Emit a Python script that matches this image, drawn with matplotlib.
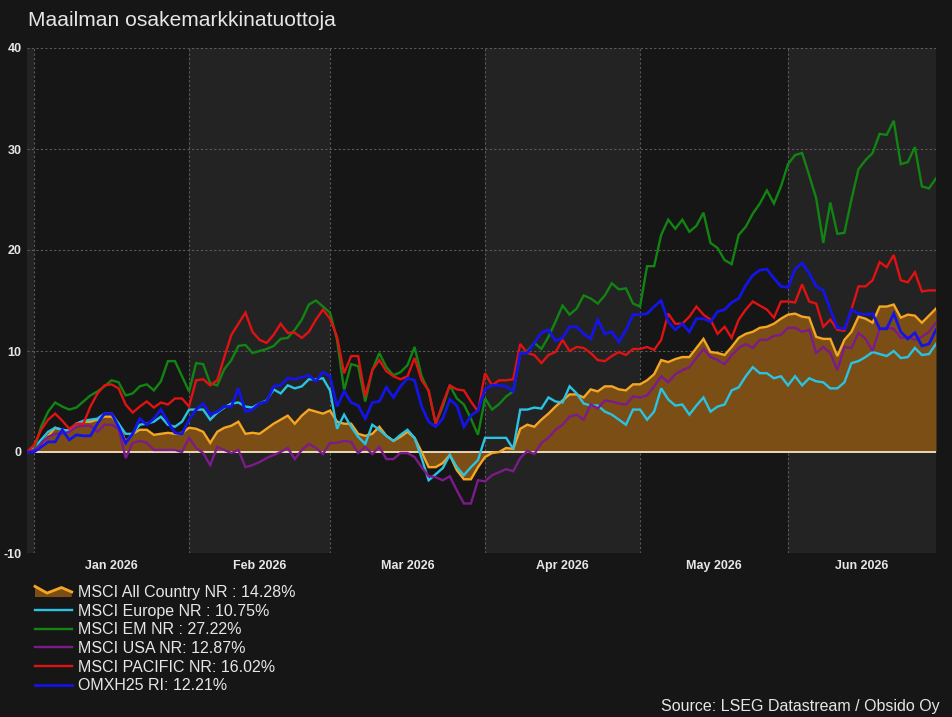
import numpy as np
import pandas as pd
import matplotlib
matplotlib.use("Agg")
import matplotlib.pyplot as plt
from matplotlib.legend_handler import HandlerBase
from matplotlib.patches import Polygon
from matplotlib.lines import Line2D

plt.rcParams['font.family'] = ['Liberation Sans', 'DejaVu Sans']

# ---------------- data ----------------
dates = pd.bdate_range("2025-12-31", "2026-06-30")

acwi = [0, 0.2, 0.7, 1.6, 2.4, 2.2, 2.1, 2.8, 3.0, 3.0, 3.2, 3.5, 3.5, 2.8, 1.0, 1.8, 2.2, 2.2, 1.7, 1.8,
        1.9, 1.8, 1.9, 2.4, 2.3, 2.0, 0.9, 2.0, 2.4, 2.6, 3.0, 1.8, 1.9, 1.8,
        2.3, 2.8, 3.2, 3.6, 2.8, 3.6, 4.2, 4.0, 3.8, 4.1, 3.0, 2.8, 2.8, 1.8, 1.6, 1.8, 2.5, 1.6, 1.1, 1.5,
        2.0, 1.4, 0.0, -1.5, -1.5, -1.1, -0.3, -1.8, -2.7, -2.7, -1.5, -0.5, -0.1,
        0.0, 0.4, 0.3, 2.3, 2.7, 2.5, 3.2, 3.8, 4.5, 5.1, 5.7, 5.7, 5.4, 6.2, 6.0, 6.5, 6.5, 6.2, 6.1, 6.7,
        6.7, 7.1, 7.7, 9.1, 8.9, 9.2, 9.4, 9.4, 10.3, 11.2, 9.9, 9.8, 9.6,
        10.4, 11.3, 11.7, 11.9, 12.3, 12.4, 12.7, 13.2, 13.6, 13.7, 13.4, 13.3, 11.4, 11.2, 11.2, 9.5, 11.1,
        11.9, 13.4, 13.2, 12.8, 14.4, 14.4, 14.6, 13.3, 13.6, 13.5, 12.8, 13.5, 14.2]

europe = [0, 0.4, 1.2, 2.0, 2.4, 2.2, 2.1, 2.8, 3.1, 3.2, 3.3, 3.8, 3.8, 2.8, 1.8, 1.8, 2.7, 2.8, 3.0, 3.5,
          2.7, 2.5, 3.0, 4.2, 4.2, 4.2, 3.2, 3.9, 4.4, 4.8, 4.9, 4.5, 4.4, 4.8,
          5.1, 6.2, 5.8, 6.6, 6.3, 6.5, 7.2, 7.2, 7.3, 6.1, 2.3, 3.7, 2.5, 1.5, 0.8, 2.7, 2.2, 1.6, 1.1, 1.7,
          2.2, 1.4, -0.6, -2.8, -2.2, -1.6, -0.3, -1.5, -2.3, -1.5, -0.8, 1.4, 1.4,
          1.4, 1.4, 0.3, 4.2, 4.2, 4.4, 4.3, 5.4, 5.0, 4.9, 6.5, 5.8, 4.8, 4.6, 4.6, 4.0, 3.7, 3.2, 2.7, 4.2,
          4.2, 3.2, 4.0, 6.3, 5.2, 4.6, 4.7, 3.7, 4.6, 5.4, 4.0, 4.5, 4.7,
          6.1, 6.4, 7.5, 8.4, 7.8, 7.8, 7.3, 7.5, 6.6, 7.5, 6.6, 7.3, 7.0, 6.9, 6.3, 6.3, 6.9, 8.8, 9.0, 9.4,
          9.9, 9.7, 9.5, 10.0, 9.3, 9.4, 10.3, 9.6, 9.7, 10.7]

em = [0, 0.2, 2.5, 4.0, 4.9, 4.5, 4.2, 4.4, 5.0, 5.6, 6.0, 6.5, 7.1, 6.9, 5.6, 5.8, 6.5, 6.7, 6.1, 7.0,
      9.0, 9.0, 7.5, 6.0, 8.8, 8.7, 6.8, 6.6, 8.2, 9.1, 10.5, 10.6, 9.8, 10.0,
      10.2, 10.5, 11.2, 11.3, 12.1, 13.1, 14.6, 15.0, 14.4, 13.8, 11.1, 6.1, 8.7, 8.5, 5.0, 8.1, 9.8, 8.4,
      7.6, 7.9, 8.6, 10.4, 7.5, 6.0, 2.8, 4.5, 6.6, 5.3, 4.7, 3.3, 1.7, 5.3, 4.2,
      4.75, 5.5, 6.0, 9.8, 10.0, 10.8, 10.2, 11.4, 12.9, 14.5, 13.6, 14.2, 15.5, 15.2, 14.7, 15.5, 16.7,
      16.1, 16.2, 14.7, 14.4, 18.4, 18.4, 21.5, 23.0, 22.1, 23.0, 21.8, 22.4, 23.7, 20.7, 20.2, 19.0,
      18.6, 21.5, 22.3, 23.6, 24.6, 25.9, 24.6, 26.3, 28.5, 29.4, 29.6, 27.4, 25.1, 20.7, 24.7, 21.6, 21.7,
      25.0, 28.0, 28.9, 29.6, 31.5, 31.4, 32.8, 28.5, 28.7, 30.2, 26.3, 26.1, 27.1]

usa = [0, 0.2, 0.8, 1.5, 1.8, 1.8, 2.0, 2.5, 2.6, 2.6, 2.0, 2.7, 2.7, 2.3, -0.6, 0.9, 1.1, 0.9, 0.2, 0.2,
       0.2, 0.2, 0.0, 1.4, 0.4, -0.1, -1.3, 0.5, 0.2, -0.1, 0.2, -1.5, -1.3, -1.0,
       -0.6, -0.3, 0.0, 0.4, -0.7, 0.2, 0.8, 0.4, -0.2, 0.9, 0.9, 1.1, 1.0, -0.1, 0.5, -0.2, 0.5, -0.7,
       -0.7, -0.1, -0.1, -0.5, -1.5, -2.4, -2.5, -2.8, -2.4, -3.8, -5.1, -5.1, -2.8, -2.9, -2.3,
       -2.0, -1.7, -1.9, -0.6, 0.1, -0.2, 0.9, 1.4, 2.2, 2.7, 3.5, 3.7, 3.2, 4.7, 4.3, 5.1, 5.0, 4.8, 4.7,
       5.5, 5.4, 5.6, 6.5, 7.5, 6.9, 7.7, 8.1, 8.4, 9.3, 10.2, 9.4, 9.1, 8.7,
       9.6, 10.3, 10.7, 10.3, 11.1, 11.1, 11.5, 11.6, 12.3, 12.3, 11.9, 12.1, 9.8, 10.4, 9.8, 8.1, 10.4,
       10.3, 11.8, 11.2, 10.0, 12.2, 12.3, 12.2, 11.3, 11.4, 11.1, 11.4, 11.9, 12.8]

pacific = [0, 0.7, 2.2, 3.2, 3.8, 3.1, 2.3, 2.8, 2.8, 4.5, 5.8, 6.6, 6.7, 6.3, 4.7, 3.9, 4.5, 5.0, 4.4, 4.9,
           4.7, 5.3, 5.3, 4.5, 7.1, 7.2, 6.6, 7.1, 9.4, 11.6, 12.7, 13.8, 11.9, 11.1,
           10.8, 11.6, 12.7, 11.8, 11.8, 11.3, 11.9, 13.1, 14.1, 13.2, 11.4, 7.8, 9.5, 9.5, 5.5, 8.1, 9.1,
           8.0, 7.5, 7.2, 7.5, 9.3, 7.1, 6.1, 2.8, 4.8, 6.6, 6.2, 6.1, 5.0, 4.0, 7.8, 6.6,
           7.1, 7.1, 7.2, 10.7, 9.8, 9.6, 8.8, 9.6, 9.9, 11.1, 10.0, 10.4, 10.3, 9.8, 9.1, 9.0, 9.5, 9.9,
           9.6, 10.2, 10.2, 10.4, 10.1, 11.1, 13.7, 12.7, 12.7, 13.4, 14.4, 13.6, 13.1, 11.7, 12.4,
           11.3, 13.1, 14.1, 14.9, 14.5, 14.1, 13.3, 14.9, 14.9, 14.8, 16.6, 14.9, 14.7, 12.4, 13.1, 12.1,
           12.0, 14.1, 16.4, 16.4, 17.0, 18.8, 18.3, 19.5, 17.0, 16.8, 17.8, 15.9, 16.0, 16.0]

omxh25 = [0, 0, 0.5, 1.0, 1.0, 2.2, 1.2, 1.7, 1.6, 1.6, 2.8, 3.8, 3.8, 2.5, 0.9, 1.8, 3.3, 2.7, 3.3, 4.2,
          3.0, 1.9, 1.8, 3.2, 4.2, 4.8, 3.7, 4.0, 4.5, 4.5, 6.3, 4.0, 4.2, 4.8,
          5.0, 6.5, 6.6, 7.3, 7.2, 7.4, 7.6, 7.0, 7.9, 7.5, 4.5, 6.0, 4.9, 4.6, 3.3, 4.9, 5.0, 6.4, 5.4, 6.5,
          7.3, 7.1, 4.5, 3.0, 2.5, 3.3, 5.2, 4.6, 2.5, 3.6, 4.1, 6.2, 6.6,
          6.6, 6.5, 6.0, 9.8, 9.8, 10.8, 11.8, 12.1, 11.0, 11.3, 12.4, 12.4, 11.7, 11.2, 13.1, 11.7, 11.9,
          10.9, 12.1, 13.6, 13.6, 13.7, 14.4, 15.0, 12.9, 12.1, 12.7, 11.9, 13.2, 13.2, 12.9, 13.9, 14.1,
          14.8, 15.2, 16.5, 17.5, 18.0, 18.1, 17.2, 16.4, 16.3, 18.1, 18.7, 17.7, 16.4, 16.0, 14.1, 12.3,
          12.2, 14.1, 13.7, 13.6, 13.7, 12.2, 12.2, 13.7, 11.9, 11.2, 11.8, 10.5, 10.7, 12.1]

labels = ["MSCI All Country NR : 14.28%", "MSCI Europe NR : 10.75%", "MSCI EM NR : 27.22%",
          "MSCI USA NR: 12.87%", "MSCI PACIFIC NR: 16.02%", "OMXH25 RI: 12.21%"]
y_ticks = [-10, 0, 10, 20, 30, 40]

# ---------------- style ----------------
BG = "#161616"
BAND = "#232323"
GRID = "#5a5a5a"
TXT = "#e6e6e6"
ORANGE = "#f5a623"
FILL = "#7a4e15"
colors = [ORANGE, "#2bc3e3", "#128412", "#7d1a8c", "#e01212", "#1414e6"]

fig = plt.figure(figsize=(9.52, 7.17), dpi=100, facecolor=BG)
ax = fig.add_axes([27 / 952, 1 - 553 / 717, (936 - 27) / 952, (553 - 48) / 717])
ax.set_facecolor(BG)

x = np.arange(len(dates))
n = len(dates)
ax.set_xlim(0, n - 1)
ax.set_ylim(-10, 40)

# month boundaries (first trading day of each month)
months = dates.to_period("M")
starts = [0] + [i for i in range(1, n) if months[i] != months[i - 1]]
ends = starts[1:] + [n - 1]
for k, (s, e) in enumerate(zip(starts, ends)):
    if k % 2 == 0:
        ax.axvspan(s, e, color=BAND, lw=0, zorder=0)
for s in starts[1:]:
    ax.axvline(s, color=GRID, lw=0.8, ls=(0, (2, 2)), zorder=1)
for yv in y_ticks:
    ax.axhline(yv, color=GRID, lw=0.8, ls=(0, (2, 2)), zorder=1)

centers = [(s + e) / 2 for s, e in zip(starts[1:], ends[1:])]
month_labels = [dates[s].strftime("%b %Y") for s in starts[1:]]
ax.set_xticks(centers)
ax.set_xticklabels(month_labels)
ax.set_yticks(y_ticks)
ax.set_yticklabels([str(v) for v in y_ticks])
ax.tick_params(axis="both", length=0, colors=TXT, labelsize=9)
ax.tick_params(axis="y", pad=4)
ax.tick_params(axis="x", pad=5)
for lab in ax.get_xticklabels() + ax.get_yticklabels():
    lab.set_fontweight("bold")
for sp in ax.spines.values():
    sp.set_visible(False)

# series
fillc = ax.fill_between(x, 0, acwi, color=FILL, lw=0, zorder=2)
ax.axhline(0, color="#f3e3c3", lw=1.3, zorder=3)
series = [acwi, europe, em, usa, pacific, omxh25]
handles = []
for i, (s, c) in enumerate(zip(series, colors)):
    lw = 2.0 if i == 5 else 1.7
    h, = ax.plot(x, s, color=c, lw=lw, zorder=4 + i, solid_joinstyle="miter")
    handles.append(h)


class AreaHandler(HandlerBase):
    def create_artists(self, legend, orig_handle, xdescent, ydescent, width, height, fontsize, trans):
        xs = np.array([0.0, 0.33, 0.72, 1.0])
        ys = np.array([0.95, 0.35, 0.85, 0.45])
        pts = [(-xdescent + a * width, -ydescent + b * height) for a, b in zip(xs, ys)]
        poly = Polygon(pts + [(-xdescent + width, -ydescent), (-xdescent, -ydescent)], closed=True,
                       facecolor=FILL, edgecolor="none", transform=trans)
        line = Line2D([p[0] for p in pts], [p[1] for p in pts], color=ORANGE, lw=2, transform=trans)
        return [poly, line]


leg_handles = [fillc] + handles[1:]
leg = fig.legend(leg_handles, labels, loc="upper left", bbox_to_anchor=(35 / 952, 1 - 585 / 717),
                 frameon=False, fontsize=11.5, handlelength=2.3, handletextpad=0.38,
                 labelspacing=0.23, borderaxespad=0, borderpad=0,
                 handler_map={type(fillc): AreaHandler()})
for t in leg.get_texts():
    t.set_color(TXT)

fig.text(28 / 952, 1 - 20 / 717, "Maailman osakemarkkinatuottoja", color=TXT, fontsize=15.1,
         ha="left", va="center")
fig.text(940 / 952, 1 - 706 / 717, "Source: LSEG Datastream / Obsido Oy", color=TXT, fontsize=11.5,
         ha="right", va="center")

fig.savefig("out.png", dpi=100, facecolor=BG)
